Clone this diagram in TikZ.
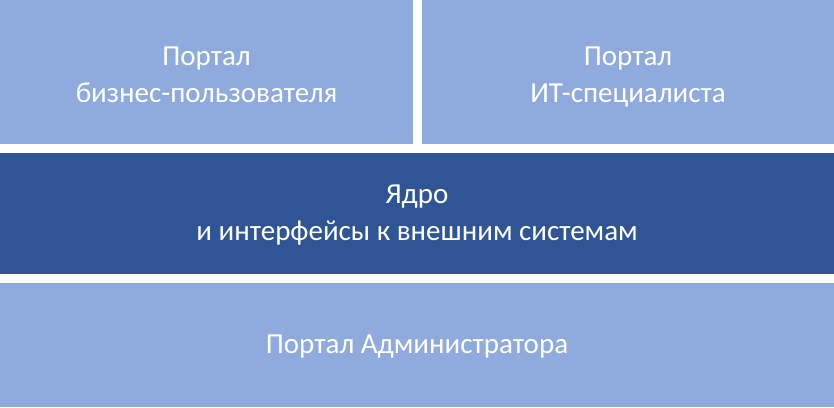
\documentclass[tikz,border=0pt]{standalone}
\usepackage{fontspec}
\setmainfont{Carlito}
\definecolor{lightblue}{HTML}{8FAADC}
\definecolor{darkblue}{HTML}{2F5597}
\begin{document}
\begin{tikzpicture}[x=1pt,y=-1pt,
  lbl/.style={text=white,align=center,font=\fontsize{29}{36.5}\selectfont,inner sep=0pt,anchor=base}]
\useasboundingbox (0,0) rectangle (834,407);
\fill[lightblue] (0,0) rectangle (413,144);
\fill[lightblue] (422,0) rectangle (834,144);
\fill[darkblue] (0,153) rectangle (834,274);
\fill[lightblue] (0,283) rectangle (834,407);
\node[lbl] (biz) at (206.5,102) {Портал\\бизнес-пользователя};
\node[lbl] (it) at (628,102) {Портал\\ИТ-специалиста};
\node[lbl] (core) at (417,240) {Ядро\\и интерфейсы к внешним системам};
\node[lbl] (adm) at (417,353) {Портал Администратора};
\end{tikzpicture}
\end{document}
